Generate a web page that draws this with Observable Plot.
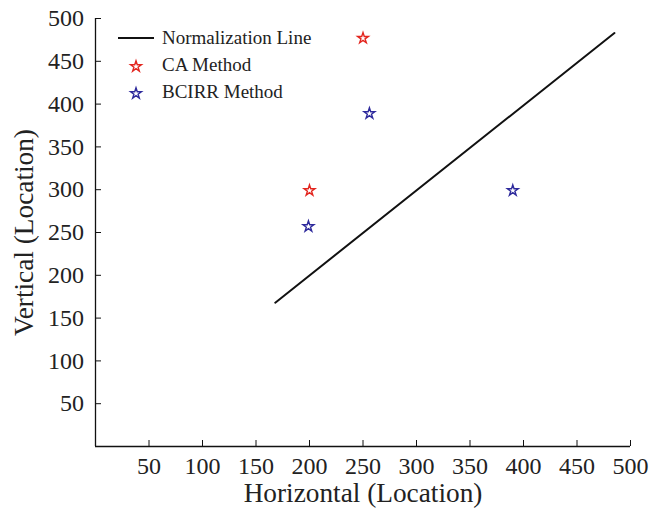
<!DOCTYPE html>
<html>
<head>
<meta charset="utf-8">
<script src="https://cdn.jsdelivr.net/npm/d3@7"></script>
<script src="https://cdn.jsdelivr.net/npm/@observablehq/plot@0.6"></script>
<style>
  body { margin: 0; background: #fff; }
  #wrap { position: relative; width: 652px; height: 508px; font-family: "Liberation Serif", "Times New Roman", serif; }
  #legend { position: absolute; left: 116px; top: 24.6px; font-size: 19px; color: #222; }
  .row { display: flex; align-items: center; height: 26.8px; }
  .sw { width: 40px; height: 20px; margin-right: 6px; flex: none; }
</style>
</head>
<body>
<div id="wrap"></div>
<script>
const xTicks = [50, 100, 150, 200, 250, 300, 350, 400, 450, 500];
const yTicks = [50, 100, 150, 200, 250, 300, 350, 400, 450, 500];
const xTitle = "Horizontal (Location)";
const yTitle = "Vertical (Location)";

const lineX = [168, 485];
const lineY = [168, 483];

const caX = [200, 250];
const caY = [299, 477];

const bcX = [199, 256, 390];
const bcY = [257, 389, 299];

const seriesNames = ["Normalization Line", "CA Method", "BCIRR Method"];
const colors = { line: "#111", ca: "#e3261f", bc: "#2e2a9c" };

const lineData = lineX.map((x, i) => ({x, y: lineY[i]}));
const caData = caX.map((x, i) => ({x, y: caY[i]}));
const bcData = bcX.map((x, i) => ({x, y: bcY[i]}));

const serif = "'Liberation Serif', 'Times New Roman', serif";

const chart = Plot.plot({
  width: 652,
  height: 508,
  marginLeft: 95,
  marginRight: 22,
  marginTop: 18,
  marginBottom: 62,
  style: { fontFamily: serif, fontSize: "24px", color: "#222", background: "#fff" },
  x: { domain: [0, 500] },
  y: { domain: [0, 500] },
  marks: [
    Plot.axisX(xTicks, { tickSize: -6, tickPadding: 16, fontSize: 24, label: null, stroke: "#111" }),
    Plot.axisY(yTicks, { tickSize: -6, tickPadding: 17.5, fontSize: 24, label: null, stroke: "#111" }),
    Plot.ruleY([0], { stroke: "#111", strokeWidth: 1.3 }),
    Plot.ruleX([0], { stroke: "#111", strokeWidth: 1.3 }),
    Plot.text([xTitle], { frameAnchor: "bottom", textAnchor: "middle", lineAnchor: "middle", dy: 46.5, fontSize: 27.3, fill: "#222" }),
    Plot.text([yTitle], { frameAnchor: "left", textAnchor: "middle", lineAnchor: "middle", rotate: -90, dx: -71, dy: 0, fontSize: 27.3, fill: "#222" }),
    Plot.line(lineData, { x: "x", y: "y", stroke: colors.line, strokeWidth: 2 }),
    Plot.dot(caData, { x: "x", y: "y", symbol: "star", r: 3.4, stroke: colors.ca, fill: "white", strokeWidth: 1.4 }),
    Plot.dot(bcData, { x: "x", y: "y", symbol: "star", r: 3.4, stroke: colors.bc, fill: "white", strokeWidth: 1.4 })
  ]
});

const wrap = document.getElementById("wrap");
wrap.appendChild(chart);

const starPath = d3.symbol(d3.symbolStar, Math.PI * 3.4 * 3.4)();
const legend = document.createElement("div");
legend.id = "legend";
const swatches = [
  `<svg class="sw" viewBox="0 0 40 20"><line x1="2" x2="38" y1="10" y2="10" stroke="${colors.line}" stroke-width="2"/></svg>`,
  `<svg class="sw" viewBox="0 0 40 20"><path d="${starPath}" transform="translate(20,11.5)" fill="white" stroke="${colors.ca}" stroke-width="1.4"/></svg>`,
  `<svg class="sw" viewBox="0 0 40 20"><path d="${starPath}" transform="translate(20,11.5)" fill="white" stroke="${colors.bc}" stroke-width="1.4"/></svg>`
];
legend.innerHTML = seriesNames.map((n, i) => `<div class="row">${swatches[i]}<span>${n}</span></div>`).join("");
wrap.appendChild(legend);
</script>
</body>
</html>
